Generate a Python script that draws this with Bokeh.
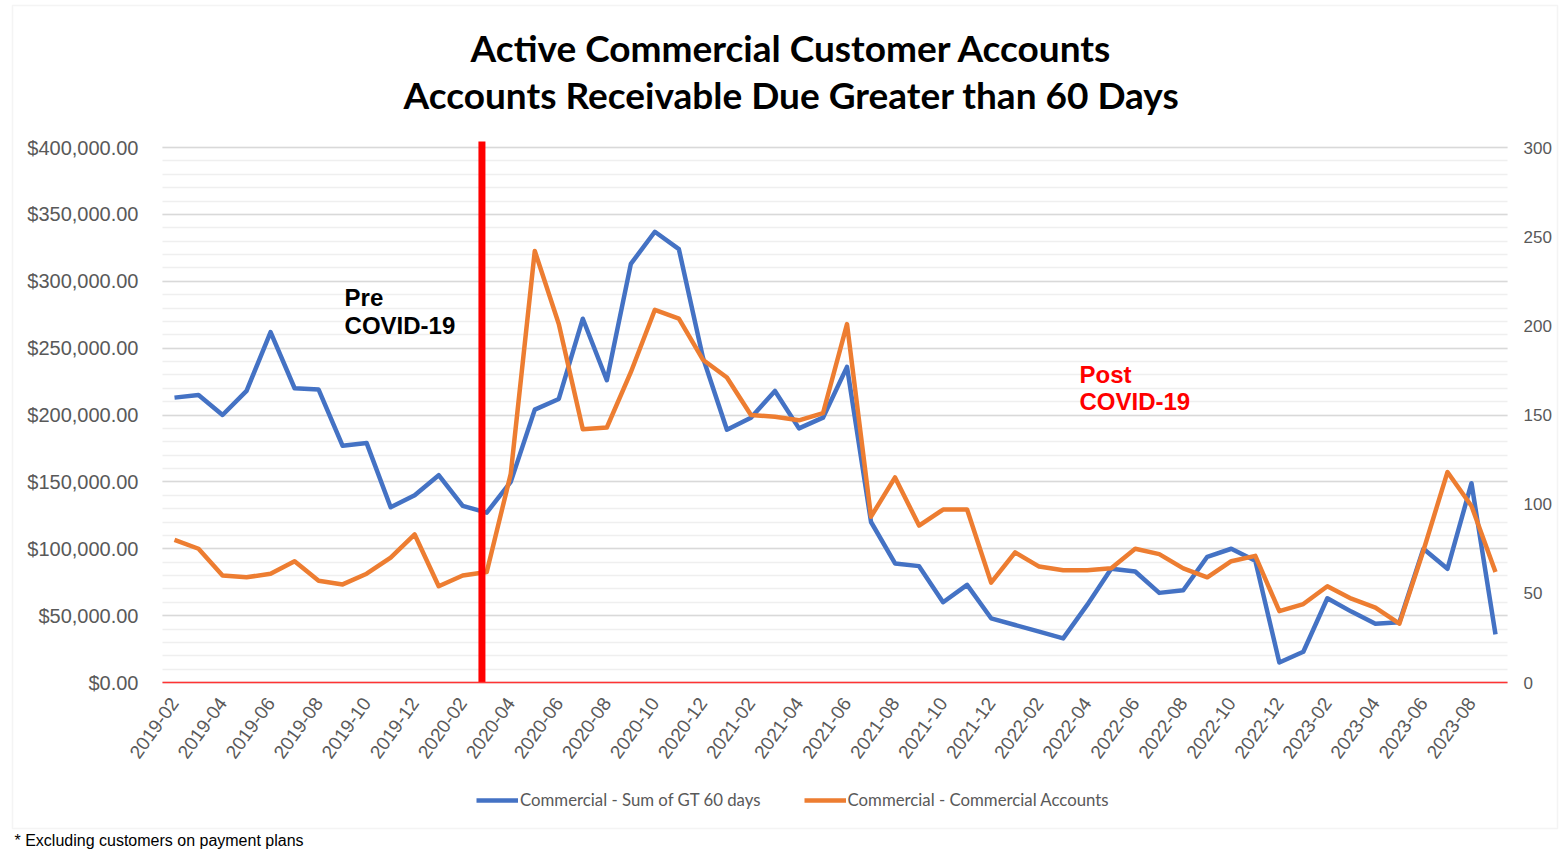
from bokeh.plotting import figure
from bokeh.models import (ColumnDataSource, Range1d, LinearAxis, FixedTicker,
                          NumeralTickFormatter, Label, Legend, LegendItem,
                          BoxAnnotation, Grid)
from bokeh.embed import file_html
from bokeh.resources import INLINE

# ---------------- data ----------------
months = [
    "2019-02", "2019-03", "2019-04", "2019-05", "2019-06", "2019-07", "2019-08",
    "2019-09", "2019-10", "2019-11", "2019-12", "2020-01", "2020-02", "2020-03",
    "2020-04", "2020-05", "2020-06", "2020-07", "2020-08", "2020-09", "2020-10",
    "2020-11", "2020-12", "2021-01", "2021-02", "2021-03", "2021-04", "2021-05",
    "2021-06", "2021-07", "2021-08", "2021-09", "2021-10", "2021-11", "2021-12",
    "2022-01", "2022-02", "2022-03", "2022-04", "2022-05", "2022-06", "2022-07",
    "2022-08", "2022-09", "2022-10", "2022-11", "2022-12", "2023-01", "2023-02",
    "2023-03", "2023-04", "2023-05", "2023-06", "2023-07", "2023-08", "2023-09",
]

# Commercial - Sum of GT 60 days ($, left axis)
gt60_sum = [
    213000, 215000, 200000, 218000, 262000, 220000, 219000,
    177000, 179000, 131000, 140000, 155000, 132000, 127000,
    150000, 204000, 212000, 272000, 226000, 313000, 337000,
    324000, 243000, 189000, 198000, 218000, 190000, 198000,
    236000, 120000, 89000, 87000, 60000, 73000, 48000,
    43000, 38000, 33000, 58000, 85000, 83000, 67000,
    69000, 94000, 100000, 91000, 15000, 23000, 63000,
    53000, 44000, 45000, 100000, 85000, 149000, 36000,
]

# Commercial - Commercial Accounts (count, right axis)
accounts = [
    80, 75, 60, 59, 61, 68, 57,
    55, 61, 70, 83, 54, 60, 62,
    117, 242, 201, 142, 143, 174, 209,
    204, 181, 171, 150, 149, 147, 151,
    201, 93, 115, 88, 97, 97, 56,
    73, 65, 63, 63, 64, 75, 72,
    64, 59, 68, 71, 40, 44, 54,
    47, 42, 33, 74, 118, 99, 62,
]

tick_months = [
    "2019-02", "2019-04", "2019-06", "2019-08", "2019-10", "2019-12",
    "2020-02", "2020-04", "2020-06", "2020-08", "2020-10", "2020-12",
    "2021-02", "2021-04", "2021-06", "2021-08", "2021-10", "2021-12",
    "2022-02", "2022-04", "2022-06", "2022-08", "2022-10", "2022-12",
    "2023-02", "2023-04", "2023-06", "2023-08",
]

series_names = ["Commercial - Sum of GT 60 days", "Commercial - Commercial Accounts"]
title_lines = ["Active Commercial Customer Accounts",
               "Accounts Receivable Due Greater than 60 Days"]
covid_split = 12.8   # between 2020-02 and 2020-03
footnote = "* Excluding customers on payment plans"

left_max, left_step, left_minor = 400000, 50000, 10000
right_max, right_step = 300, 50

# ---------------- layout (pixels) ----------------
W, H = 1560, 851
PL, PR, PT, PB = 162, 1507, 147, 682          # plot area inside canvas
n = len(months)
ux = (PR - PL) / n                              # px per category
x_lo, x_hi = -0.5, n - 0.5
x_start = x_lo - PL / ux
x_end = x_hi + (W - PR) / ux
uy_left = (PB - PT) / left_max                  # px per dollar

def yrange(vmax):
    u = (PB - PT) / vmax
    return Range1d(-(H - PB) / u, vmax + PT / u)

x = list(range(n))
src = ColumnDataSource(dict(x=x, month=months, gt60=gt60_sum, acc=accounts))

p = figure(width=W, height=H, output_backend="svg", toolbar_location=None,
           x_range=Range1d(x_start, x_end), y_range=yrange(left_max),
           min_border=0, x_axis_location=None, y_axis_location=None)
p.extra_y_ranges = {"acc": yrange(right_max)}
p.title.visible = False
p.outline_line_color = None
p.background_fill_color = "white"
p.border_fill_color = "white"

GRAY = "#595959"
TICKFONT = "Liberation Sans"

major_ticks = list(range(0, left_max + 1, left_step))
minor_ticks = list(range(0, left_max + 1, left_minor))
left_ticker = FixedTicker(ticks=major_ticks, minor_ticks=minor_ticks)

# left axis
ya = LinearAxis(ticker=left_ticker, fixed_location=x_lo, bounds=(0, left_max))
ya.formatter = NumeralTickFormatter(format="$0,0.00")
ya.axis_line_color = None
ya.major_tick_line_color = None
ya.minor_tick_line_color = None
ya.major_tick_out = 0
ya.minor_tick_out = 0
ya.major_label_standoff = 24
ya.major_label_text_font = TICKFONT
ya.major_label_text_font_size = "20px"
ya.major_label_text_color = GRAY
p.add_layout(ya, "left")

# right axis
ra = LinearAxis(y_range_name="acc", fixed_location=x_hi, bounds=(0, right_max),
                ticker=FixedTicker(ticks=list(range(0, right_max + 1, right_step))))
ra.axis_line_color = None
ra.major_tick_line_color = None
ra.minor_tick_line_color = None
ra.major_tick_out = 0
ra.major_label_standoff = 16
ra.major_label_text_font = TICKFONT
ra.major_label_text_font_size = "17px"
ra.major_label_text_color = GRAY
p.add_layout(ra, "right")

# x axis
tick_idx = [months.index(m) for m in tick_months]
xa = LinearAxis(ticker=FixedTicker(ticks=tick_idx), fixed_location=0,
                bounds=(x_lo, x_hi))
xa.major_label_overrides = {i: months[i] for i in tick_idx}
xa.major_label_orientation = 0.95
xa.major_label_standoff = 17
xa.major_label_text_font = TICKFONT
xa.major_label_text_font_size = "19px"
xa.major_label_text_color = GRAY
xa.major_tick_line_color = None
xa.minor_tick_line_color = None
xa.major_tick_out = 0
xa.axis_line_color = "#FF3333"
xa.axis_line_width = 1.5
p.add_layout(xa, "below")

# grid (horizontal lines only, within plot area)
for g in p.grid:
    g.visible = False
yg = Grid(dimension=1, ticker=left_ticker, cross_bounds=(x_lo, x_hi),
          grid_line_color="#D9D9D9", grid_line_width=1.3,
          minor_grid_line_color="#EFEFEF", minor_grid_line_width=1.3)
p.add_layout(yg)

# series
r1 = p.line("x", "gt60", source=src, line_color="#4472C4", line_width=4.5,
            line_join="round")
r2 = p.line("x", "acc", source=src, y_range_name="acc", line_color="#ED7D31",
            line_width=4.5, line_join="round")

# COVID split line (drawn slightly past the top of the plot area, as in the source)
overshoot_px = 6
p.segment(x0=[covid_split], y0=[0], x1=[covid_split],
          y1=[left_max + overshoot_px / uy_left],
          line_color="#FF0000", line_width=7)

# annotations inside the plot (baselines in screen px of the reference)
def add_text(txt, xv, base_px, color):
    yv = (PB - base_px) / uy_left
    p.add_layout(Label(x=xv, y=yv, text=txt, text_font="Liberation Sans",
                       text_font_style="bold", text_font_size="24px",
                       text_color=color, text_baseline="alphabetic",
                       text_align="left"))

add_text("Pre", 7.08, 297, "#000000")
add_text("COVID-19", 7.08, 325, "#000000")
add_text("Post", 37.68, 374, "#FF0000")
add_text("COVID-19", 37.68, 401, "#FF0000")

# title (screen units: x from left, y from bottom)
for txt, base in zip(title_lines, [47, 94]):
    p.add_layout(Label(x=791, y=H - base, x_units="screen", y_units="screen",
                       text=txt, text_font="Lato", text_font_style="bold",
                       text_font_size="37px", text_color="#000000",
                       text_align="center", text_baseline="alphabetic"))

# chart border
p.add_layout(BoxAnnotation(left=12, right=1557, bottom=H - 828, top=H - 5,
                           left_units="screen", right_units="screen",
                           bottom_units="screen", top_units="screen",
                           fill_alpha=0, line_color="#D9D9D9", line_width=1.5))

# footnote
p.add_layout(Label(x=14, y=H - 840, x_units="screen", y_units="screen",
                   text=footnote, text_font="Liberation Sans",
                   text_font_size="16px", text_color="#000000",
                   text_baseline="alphabetic"))

# legend
legend = Legend(items=[LegendItem(label=series_names[0], renderers=[r1]),
                       LegendItem(label=series_names[1], renderers=[r2])],
                orientation="horizontal", location=(476, H - 810),
                border_line_color=None, background_fill_alpha=0,
                padding=0, margin=0, spacing=43, glyph_width=42,
                glyph_height=20, label_height=20, label_standoff=2,
                label_text_font="Lato", label_text_font_size="16.8px",
                label_text_color=GRAY)
p.add_layout(legend)

open("out.html", "w").write(file_html(p, INLINE))
